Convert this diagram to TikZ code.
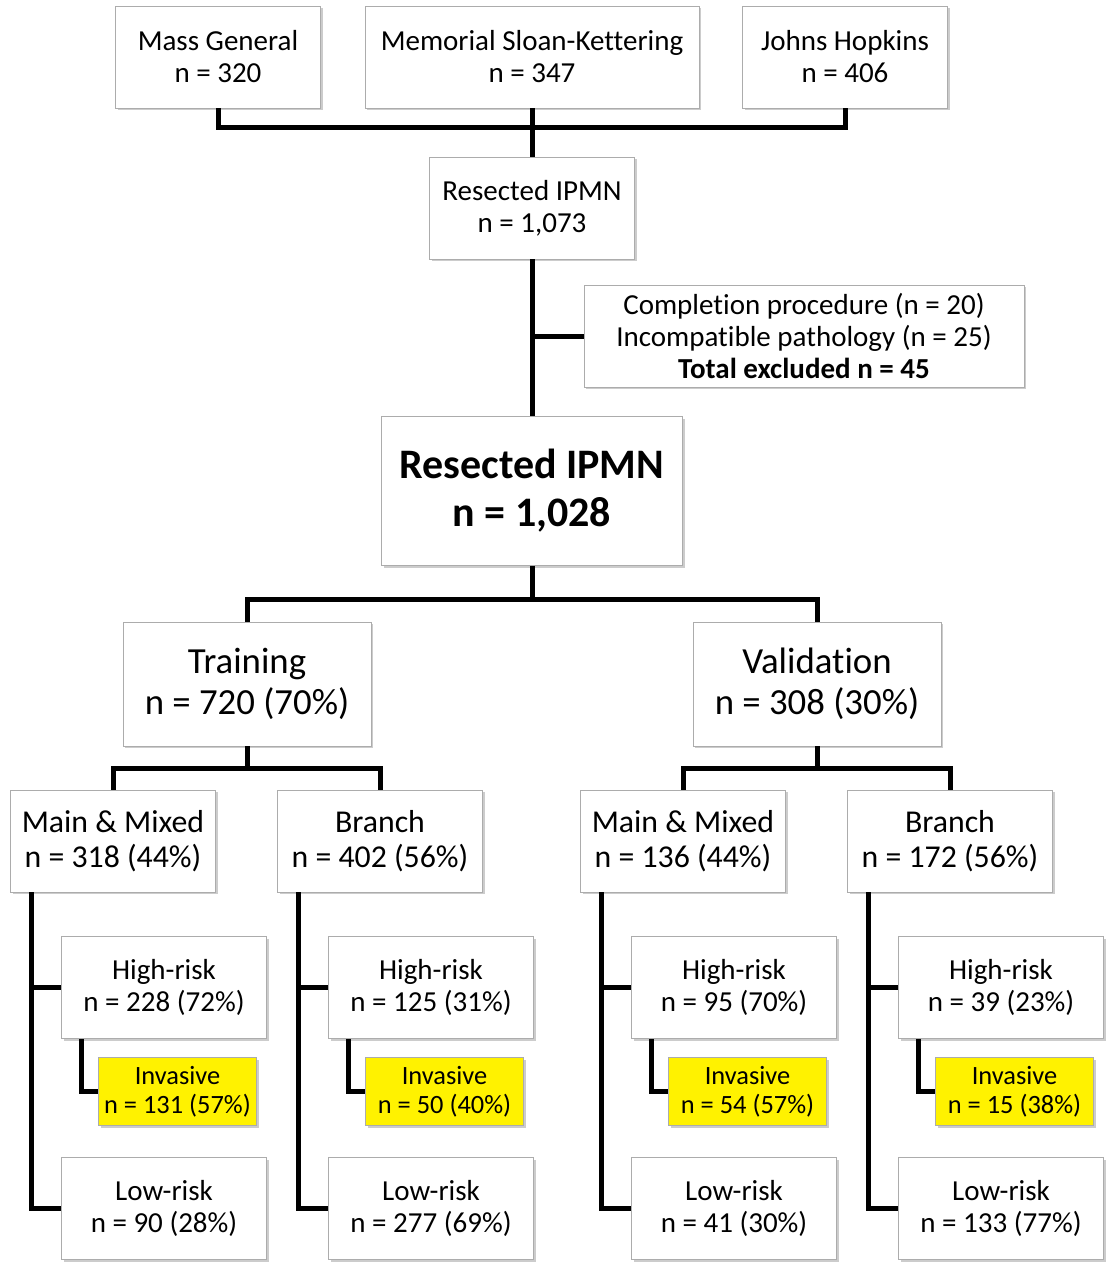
\documentclass[tikz,border=0pt]{standalone}
\usepackage{fontspec}
\setmainfont{Carlito}[Ligatures=NoCommon]
\usetikzlibrary{
	positioning,
	shadows
}

\begin{document}
\begin{tikzpicture}[
	x = 0.5pt, y = -0.5pt,
	box/.style = {
		rectangle, draw=gray!65, fill=white,
		drop shadow={shadow xshift=1.2pt, shadow yshift=-1.2pt, fill=black!40, opacity=0.5},
		align=center, inner sep=1pt,
		minimum width=102.5pt, minimum height=51pt,
		font=\fontsize{14.5}{16}\selectfont
	},
	cohort/.style = {
		box, minimum width=124pt, minimum height=62pt,
		font=\fontsize{18.4}{20.5}\selectfont
	},
	group/.style = {
		box, font=\fontsize{15.9}{17.5}\selectfont
	},
	invasive/.style = {
		box, fill=yellow, minimum width=79pt, minimum height=34pt,
		font=\fontsize{13.2}{14.5}\selectfont
	},
	link/.style = {line width=2.5pt, black}
]

	\useasboundingbox (0,0) rectangle (1107,1263);

	\node (mgh) [box] at (218,57) {Mass General\\n = 320};
	\node (msk) [box, minimum width=167pt] at (532,57) {Memorial Sloan-Kettering\\n = 347};
	\node (jhu) [box] at (845,57) {Johns Hopkins\\n = 406};

	\node (rip) [box] at (532,208) {Resected IPMN\\n = 1,073};
	\node (excl) [box, minimum width=220pt] at (804,336)
		{Completion procedure (n = 20)\\Incompatible pathology (n = 25)\\\textbf{Total excluded n = 45}};
	\node (rip2) [box, minimum width=150.5pt, minimum height=74.5pt,
		font=\fontsize{21}{24}\selectfont\bfseries] at (532,491) {Resected IPMN\\n = 1,028};

	\node (train) [cohort] at (247,684) {Training\\n = 720 (70\%)};
	\node (valid) [cohort] at (817,684) {Validation\\n = 308 (30\%)};

	\node (tmm) [group] at (113,841) {Main \& Mixed\\n = 318 (44\%)};
	\node (tbr) [group] at (380,841) {Branch\\n = 402 (56\%)};
	\node (vmm) [group] at (683,841) {Main \& Mixed\\n = 136 (44\%)};
	\node (vbr) [group] at (950,841) {Branch\\n = 172 (56\%)};

	\node (tmmH) [box, below right=22pt and 25.5pt of tmm.south west] {High-risk\\n = 228 (72\%)};
	\node (tmmI) [invasive, below right=9pt and 18.5pt of tmmH.south west] {Invasive\\n = 131 (57\%)};
	\node (tmmL) [box, below=59pt of tmmH] {Low-risk\\n = 90 (28\%)};

	\node (tbrH) [box, below right=22pt and 25.5pt of tbr.south west] {High-risk\\n = 125 (31\%)};
	\node (tbrI) [invasive, below right=9pt and 18.5pt of tbrH.south west] {Invasive\\n = 50 (40\%)};
	\node (tbrL) [box, below=59pt of tbrH] {Low-risk\\n = 277 (69\%)};

	\node (vmmH) [box, below right=22pt and 25.5pt of vmm.south west] {High-risk\\n = 95 (70\%)};
	\node (vmmI) [invasive, below right=9pt and 18.5pt of vmmH.south west] {Invasive\\n = 54 (57\%)};
	\node (vmmL) [box, below=59pt of vmmH] {Low-risk\\n = 41 (30\%)};

	\node (vbrH) [box, below right=22pt and 25.5pt of vbr.south west] {High-risk\\n = 39 (23\%)};
	\node (vbrI) [invasive, below right=9pt and 18.5pt of vbrH.south west] {Invasive\\n = 15 (38\%)};
	\node (vbrL) [box, below=59pt of vbrH] {Low-risk\\n = 133 (77\%)};

	\draw [link] (mgh.south) -- ++(0pt,-9.5pt) -| (rip.north);
	\draw [link] (jhu.south) -- ++(0pt,-9.5pt) -| (rip.north);
	\draw [link] (msk) -- (rip);
	\draw [link] (rip) -- (rip2);
	\draw [link] (excl.west) -- (excl.west -| rip.south);

	\draw [link] (rip2.south) -- ++(0pt,-17pt) -| (train.north);
	\draw [link] (rip2.south) -- ++(0pt,-17pt) -| (valid.north);
	\draw [link] (train.south) -- ++(0pt,-11pt) -| (tmm.north);
	\draw [link] (train.south) -- ++(0pt,-11pt) -| (tbr.north);
	\draw [link] (valid.south) -- ++(0pt,-11pt) -| (vmm.north);
	\draw [link] (valid.south) -- ++(0pt,-11pt) -| (vbr.north);

	\draw [link] ([xshift=10.5pt]tmm.south west) |- (tmmH.west);
	\draw [link] ([xshift=10.5pt]tmm.south west) |- (tmmL.west);
	\draw [link] ([xshift=10pt]tmmH.south west) |- (tmmI.west);

	\draw [link] ([xshift=10.5pt]tbr.south west) |- (tbrH.west);
	\draw [link] ([xshift=10.5pt]tbr.south west) |- (tbrL.west);
	\draw [link] ([xshift=10pt]tbrH.south west) |- (tbrI.west);

	\draw [link] ([xshift=10.5pt]vmm.south west) |- (vmmH.west);
	\draw [link] ([xshift=10.5pt]vmm.south west) |- (vmmL.west);
	\draw [link] ([xshift=10pt]vmmH.south west) |- (vmmI.west);

	\draw [link] ([xshift=10.5pt]vbr.south west) |- (vbrH.west);
	\draw [link] ([xshift=10.5pt]vbr.south west) |- (vbrL.west);
	\draw [link] ([xshift=10pt]vbrH.south west) |- (vbrI.west);
\end{tikzpicture}
\end{document}
